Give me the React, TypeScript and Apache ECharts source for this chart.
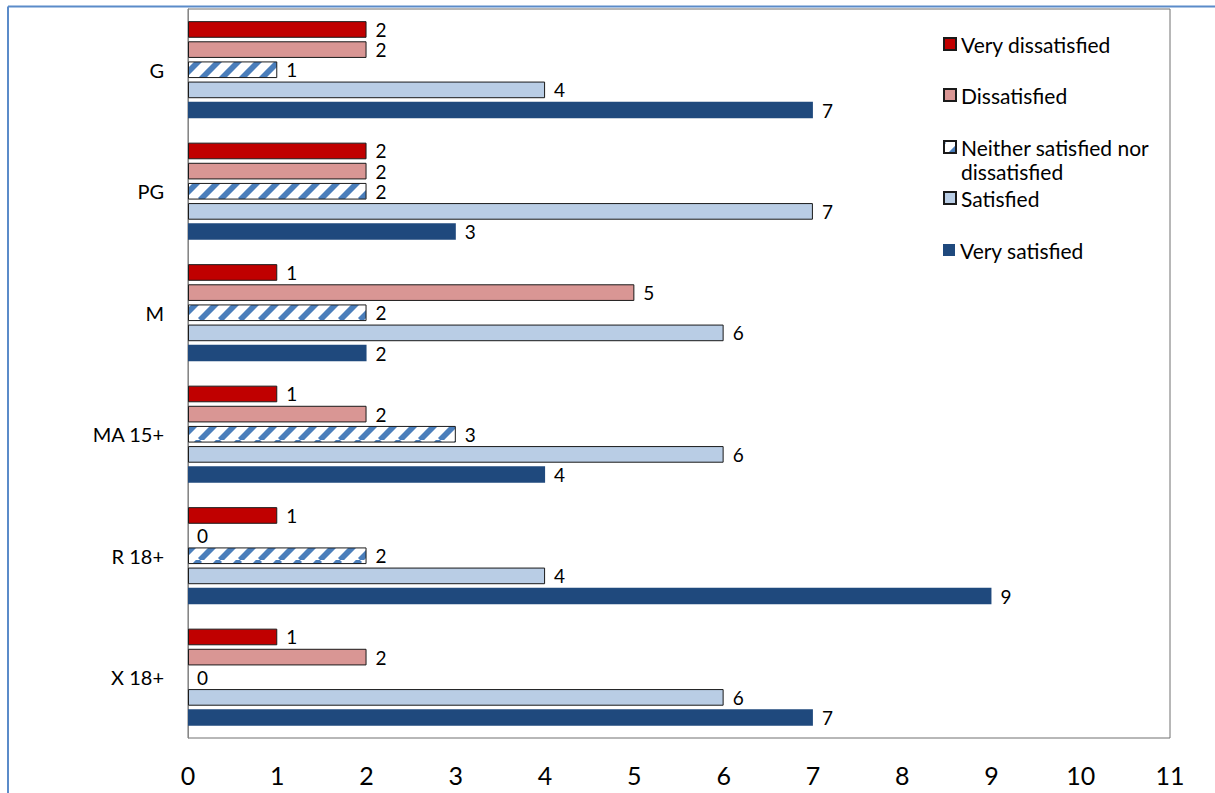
import React, { useEffect, useRef } from "react";
import * as echarts from "echarts";

// Film classifications, top to bottom
const categories = ["G", "PG", "M", "MA 15+", "R 18+", "X 18+"];

const seriesNames = [
  "Very dissatisfied",
  "Dissatisfied",
  "Neither satisfied nor dissatisfied",
  "Satisfied",
  "Very satisfied",
];

// Number of responses per classification
const veryDissatisfied = [2, 2, 1, 1, 1, 1];
const dissatisfied = [2, 2, 5, 2, 0, 2];
const neither = [1, 2, 2, 3, 2, 0];
const satisfied = [4, 7, 6, 6, 4, 6];
const verySatisfied = [7, 3, 2, 4, 9, 7];

const xTicks = [0, 1, 2, 3, 4, 5, 6, 7, 8, 9, 10, 11];

const FONT = "Lato, 'Open Sans', sans-serif";

// Legend icon centres (y) for each series
const legendCentres = [44, 95, 147, 198, 250];

function makeStripeTile(): HTMLCanvasElement {
  const size = 20;
  const c = document.createElement("canvas");
  c.width = size;
  c.height = size;
  const ctx = c.getContext("2d")!;
  ctx.fillStyle = "#ffffff";
  ctx.fillRect(0, 0, size, size);
  ctx.strokeStyle = "#4a7ebb";
  ctx.lineWidth = 5.8;
  for (const k of [-size, 0, size]) {
    ctx.beginPath();
    ctx.moveTo(k, size);
    ctx.lineTo(k + size, 0);
    ctx.stroke();
  }
  return c;
}

export default function App() {
  const ref = useRef<HTMLDivElement>(null);

  useEffect(() => {
    if (!ref.current) return;
    const chart = echarts.init(ref.current, undefined, { renderer: "svg" });
    const stripe = { image: makeStripeTile(), repeat: "repeat" };

    const values = [veryDissatisfied, dissatisfied, neither, satisfied, verySatisfied];
    const fills: any[] = ["#C00000", "#D99694", stripe, "#B9CDE5", "#1F497D"];
    const borders = [1, 1, 1, 1, 0];

    const series = seriesNames.map((name, i) => ({
      name,
      type: "bar",
      // empty bars get no outline, so only their label shows
      data: values[i].map((v) => (v === 0 ? { value: v, itemStyle: { borderWidth: 0 } } : v)),
      barCategoryGap: "20%",
      barGap: "21%",
      itemStyle: {
        color: fills[i],
        borderColor: "#1a1a1a",
        borderWidth: borders[i],
      },
      label: {
        show: true,
        position: "right",
        distance: 9,
        color: "#000",
        fontSize: 19,
        lineHeight: 18,
        fontFamily: FONT,
      },
    }));

    const legends = seriesNames.map((name, i) => {
      const isWrapped = i === 2;
      return {
        data: [name],
        orient: "vertical",
        left: 943,
        top: isWrapped ? legendCentres[i] - 36 : legendCentres[i] - 12,
        padding: 0,
        itemWidth: 12,
        itemHeight: 12,
        selectedMode: false,
        icon: "rect",
        // the long name wraps below its icon line
        formatter: (n: string) =>
          n === "Neither satisfied nor dissatisfied" ? "\nNeither satisfied nor\ndissatisfied" : n,
        textStyle: {
          color: "#000",
          fontSize: 21,
          fontFamily: FONT,
          lineHeight: 24,
        },
      };
    });

    chart.setOption({
      animation: false,
      backgroundColor: "#ffffff",
      grid: {
        left: 188,
        top: 9,
        right: 45,
        bottom: 55,
        show: true,
        borderColor: "#707070",
        borderWidth: 1,
        backgroundColor: "transparent",
      },
      xAxis: {
        type: "value",
        min: xTicks[0],
        max: xTicks[xTicks.length - 1],
        interval: 1,
        axisLine: { show: false },
        axisTick: { show: false },
        splitLine: { show: false },
        axisLabel: {
          color: "#000",
          fontSize: 25,
          fontFamily: FONT,
          margin: 24,
        },
      },
      yAxis: {
        type: "category",
        data: categories,
        inverse: true,
        axisLine: { show: true, lineStyle: { color: "#868686", width: 1 } },
        axisTick: { show: false },
        axisLabel: {
          color: "#000",
          fontSize: 20,
          fontFamily: FONT,
          margin: 24,
        },
      },
      legend: legends,
      graphic: [
        {
          type: "line",
          shape: { x1: 8, y1: 6.5, x2: 1215, y2: 6.5 },
          style: { stroke: "#5B8BC9", lineWidth: 2 },
          silent: true,
        },
        {
          type: "line",
          shape: { x1: 8, y1: 6.5, x2: 8, y2: 793 },
          style: { stroke: "#5B8BC9", lineWidth: 2 },
          silent: true,
        },
      ],
      series,
    });

    return () => chart.dispose();
  }, []);

  return (
    <div
      ref={ref}
      style={{ position: "absolute", left: 0, top: 0, width: 1215, height: 793 }}
    />
  );
}
